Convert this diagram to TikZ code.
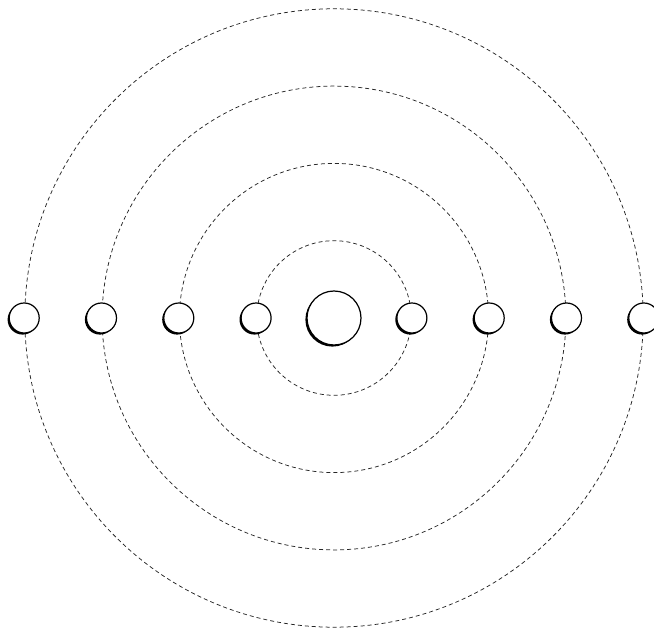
\documentclass[tikz,border=0pt]{standalone}
\begin{document}
\begin{tikzpicture}[x=1pt,y=1pt,
  orbit/.style={draw=black!85, line width=0.75pt, dash pattern=on 4pt off 3pt},
  ball/.style={circle, draw=black, line width=1.2pt, fill=white, inner sep=0pt, minimum size=#1,
    preaction={fill=black, transform canvas={shift={(-1.6pt,-1.6pt)}}}}]
\useasboundingbox (0,0) rectangle (654,633);
\coordinate (c) at (334,315);
\foreach \r in {77.3,154.6,231.9,309.2} {
  \draw[orbit] (c) circle (\r);
}
\node[ball=54pt] (nc) at (c) {};
\foreach \i/\x in {l1/24.2,l2/101.5,l3/178.8,l4/256.1,r1/411.9,r2/489.2,r3/566.5,r4/643.8} {
  \node[ball=30pt] (\i) at (\x,315) {};
}
\end{tikzpicture}
\end{document}
